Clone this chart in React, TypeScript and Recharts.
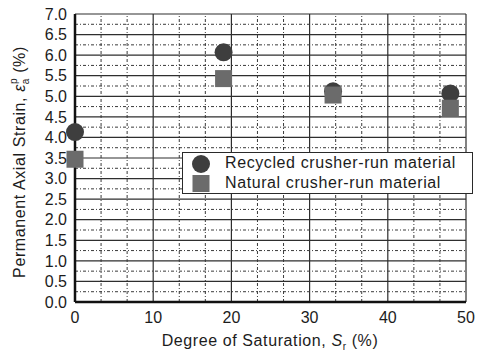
import React from 'react';
import {
  ScatterChart,
  Scatter,
  XAxis,
  YAxis,
  CartesianGrid,
  ReferenceLine,
  Legend,
  Label,
} from 'recharts';

// Degree of saturation Sr (%) and permanent axial strain (%) per material
const recycledSr = [0, 19, 33, 48];
const recycledStrain = [4.13, 6.07, 5.12, 5.07];
const naturalSr = [0, 19, 33, 48];
const naturalStrain = [3.47, 5.43, 5.03, 4.71];

const seriesNames = ['Recycled crusher-run material', 'Natural crusher-run material'];

const xTicks = [0, 10, 20, 30, 40, 50];
const yTicks = [0, 0.5, 1, 1.5, 2, 2.5, 3, 3.5, 4, 4.5, 5, 5.5, 6, 6.5, 7];

// minor grid: thirds between x ticks, halves between y ticks
const xMinor = xTicks.slice(0, -1).flatMap((t) => [t + 10 / 3, t + 20 / 3]);
const yMinor = yTicks.slice(0, -1).map((t) => t + 0.25);

const recycled = recycledSr.map((sr, i) => ({ sr, strain: recycledStrain[i] }));
const natural = naturalSr.map((sr, i) => ({ sr, strain: naturalStrain[i] }));

const FONT = '"Liberation Sans", Arial, sans-serif';
const TEXT = '#1c1c1c';
const CIRCLE = '#3e3e3e';
const SQUARE = '#6b6b6b';

const CircleMark = (p: any) => <circle cx={p.cx} cy={p.cy} r={9} fill={CIRCLE} />;
const SquareMark = (p: any) => (
  <rect x={p.cx - 8.5} y={p.cy - 8.5} width={17} height={17} fill={SQUARE} />
);

const XTitle = () => (
  <text
    x={270}
    y={346}
    textAnchor="middle"
    fontFamily={FONT}
    fontSize={16}
    letterSpacing={0.6}
    fill={TEXT}
  >
    Degree of Saturation,{' '}
    <tspan fontStyle="italic">S</tspan>
    <tspan fontSize={10} dy={4}>r</tspan>
    <tspan dy={-4}> (%)</tspan>
  </text>
);

const YTitle = () => (
  <text
    x={0}
    y={0}
    transform="translate(25,162) rotate(-90)"
    textAnchor="middle"
    fontFamily={FONT}
    fontSize={16}
    letterSpacing={0.6}
    fill={TEXT}
  >
    Permanent Axial Strain,{' '}
    <tspan fontStyle="italic">ε</tspan>
    <tspan fontSize={10} dy={4}>a</tspan>
    <tspan fontSize={10} dx={-6} dy={-12}>p</tspan>
    <tspan dy={8}> (%)</tspan>
  </text>
);

const LegendBox = () => (
  <div
    style={{
      width: 289,
      height: 40,
      border: '1.5px solid #2a2a2a',
      background: '#fff',
      fontFamily: FONT,
      fontSize: 16,
      color: TEXT,
      letterSpacing: 0.6,
      boxSizing: 'content-box',
    }}
  >
    {seriesNames.map((name, i) => (
      <div key={name} style={{ display: 'flex', alignItems: 'center', height: 20 }}>
        <svg width={42} height={20} style={{ flex: 'none' }}>
          {i === 0 ? (
            <circle cx={18} cy={11} r={9} fill={CIRCLE} />
          ) : (
            <rect x={9.5} y={2} width={17} height={17} fill={SQUARE} />
          )}
        </svg>
        <span style={{ lineHeight: '20px', whiteSpace: 'nowrap' }}>{name}</span>
      </div>
    ))}
  </div>
);

export default function App() {
  return (
    <div style={{ position: 'absolute', left: 0, top: 0, width: 482, height: 353, background: '#fff' }}>
      <ScatterChart
        width={482}
        height={353}
        margin={{ top: 14, right: 16, bottom: 0, left: 0 }}
      >
        <CartesianGrid stroke="#2e2e2e" strokeWidth={1.2} />
        {xMinor.map((v) => (
          <ReferenceLine key={'x' + v} x={v} stroke="#3a3a3a" strokeWidth={1} strokeDasharray="3 2 1 2" />
        ))}
        {yMinor.map((v) => (
          <ReferenceLine key={'y' + v} y={v} stroke="#3a3a3a" strokeWidth={1} strokeDasharray="3 2 1 2" />
        ))}
        <XAxis
          type="number"
          dataKey="sr"
          domain={[0, 50]}
          ticks={xTicks}
          interval={0}
          height={51}
          axisLine={{ stroke: '#111', strokeWidth: 2.5 }}
          tickLine={false}
          tick={{ fontFamily: FONT, fontSize: 16, fill: TEXT }}
          tickMargin={4}
        >
          <Label content={XTitle} />
        </XAxis>
        <YAxis
          type="number"
          dataKey="strain"
          domain={[0, 7]}
          ticks={yTicks}
          interval={0}
          width={75}
          axisLine={{ stroke: '#111', strokeWidth: 2.5 }}
          tickLine={false}
          tick={{ fontFamily: FONT, fontSize: 16, fill: TEXT }}
          tickFormatter={(v: number) => v.toFixed(1)}
        >
          <Label content={YTitle} />
        </YAxis>
        <Scatter
          name={seriesNames[0]}
          data={recycled}
          shape={CircleMark}
          fill={CIRCLE}
          isAnimationActive={false}
        />
        <Scatter
          name={seriesNames[1]}
          data={natural}
          shape={SquareMark}
          fill={SQUARE}
          isAnimationActive={false}
        />
        <Legend
          layout="vertical"
          align="center"
          verticalAlign="middle"
          content={LegendBox}
          wrapperStyle={{ left: 182, top: 152, width: 292 }}
        />
      </ScatterChart>
    </div>
  );
}
